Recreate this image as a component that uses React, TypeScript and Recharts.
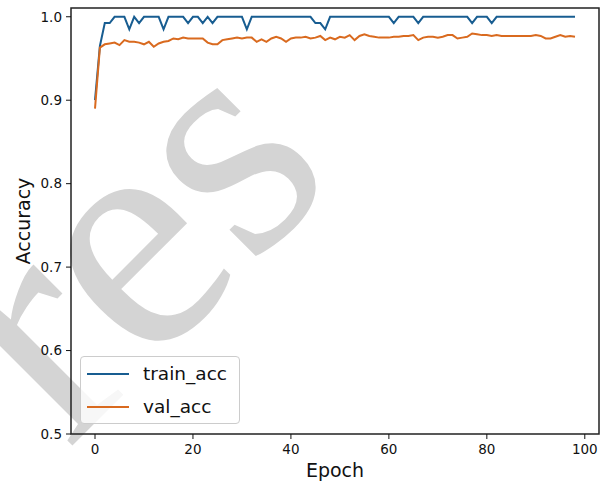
import React from 'react'
import { LineChart, Line, XAxis, YAxis, ReferenceArea } from 'recharts'

// accuracy per epoch (0..98)
const trainAcc = [
  0.9, 0.965, 0.9925, 0.9925, 1, 1, 1, 0.985, 1, 0.9925,
  1, 1, 1, 1, 0.985, 1, 1, 1, 1, 0.9925,
  1, 1, 0.9925, 1, 0.9925, 1, 1, 1, 1, 1,
  1, 0.985, 1, 1, 1, 1, 1, 1, 1, 1,
  1, 1, 1, 1, 1, 0.9925, 0.9925, 0.985, 1, 1,
  1, 1, 1, 1, 1, 1, 1, 1, 1, 1,
  1, 0.9925, 1, 1, 1, 1, 0.9925, 1, 1, 1,
  1, 1, 1, 1, 1, 1, 1, 0.9925, 1, 1,
  1, 0.9925, 1, 1, 1, 1, 1, 1, 1, 1,
  1, 1, 1, 1, 1, 1, 1, 1, 1,
]
const valAcc = [
  0.89, 0.963, 0.967, 0.968, 0.969, 0.966, 0.972, 0.97, 0.97, 0.969,
  0.967, 0.97, 0.964, 0.968, 0.97, 0.971, 0.974, 0.973, 0.975, 0.974,
  0.974, 0.974, 0.974, 0.969, 0.967, 0.967, 0.972, 0.973, 0.974, 0.975,
  0.974, 0.975, 0.975, 0.97, 0.973, 0.97, 0.974, 0.976, 0.974, 0.97,
  0.974, 0.975, 0.975, 0.976, 0.974, 0.975, 0.977, 0.972, 0.975, 0.973,
  0.976, 0.975, 0.978, 0.972, 0.977, 0.979, 0.977, 0.976, 0.975, 0.975,
  0.975, 0.976, 0.976, 0.977, 0.977, 0.978, 0.972, 0.975, 0.976, 0.976,
  0.975, 0.976, 0.978, 0.978, 0.974, 0.975, 0.976, 0.98, 0.979, 0.978,
  0.978, 0.977, 0.978, 0.977, 0.977, 0.977, 0.977, 0.977, 0.977, 0.977,
  0.978, 0.977, 0.974, 0.974, 0.976, 0.978, 0.976, 0.977, 0.976,
]
const xTicks = [0, 20, 40, 60, 80, 100]
const yTicks = [0.5, 0.6, 0.7, 0.8, 0.9, 1.0]
const xDomain: [number, number] = [-4.9, 102.9]
const yDomain: [number, number] = [0.5, 1.0105]

const series = [
  { key: 'train_acc', color: '#185d91' },
  { key: 'val_acc', color: '#d96a1f' },
]

const data = trainAcc.map((v, i) => ({ epoch: i, train_acc: v, val_acc: valAcc[i] }))

const font = '"DejaVu Sans", sans-serif'
const tickStyle = { fontSize: 13.5, fill: '#111', fontFamily: font }

function LegendBox() {
  return (
    <div
      style={{
        position: 'absolute',
        left: 80,
        top: 356,
        width: 158,
        height: 66,
        border: '1px solid #cccccc',
        borderRadius: 4,
        background: 'rgba(255,255,255,0.8)',
        fontFamily: font,
        fontSize: 18.5,
        color: '#111',
      }}
    >
      {series.map((s) => (
        <div key={s.key} style={{ display: 'flex', alignItems: 'center', height: 33 }}>
          <svg width={42} height={4} style={{ marginLeft: 6 }}>
            <line x1={0} x2={42} y1={2} y2={2} stroke={s.color} strokeWidth={2} />
          </svg>
          <span style={{ marginLeft: 14, lineHeight: '33px' }}>{s.key}</span>
        </div>
      ))}
    </div>
  )
}

export default function App() {
  return (
    <div style={{ position: 'absolute', left: 0, top: 0, width: 602, height: 484, background: '#fff', overflow: 'hidden' }}>
      <svg width={602} height={484} style={{ position: 'absolute', left: 0, top: 0 }}>
        <text
          x={-62}
          y={580}
          transform="rotate(-45, -62, 580)"
          fontFamily='"Liberation Serif", serif'
          fontSize={330}
          fill="#d4d4d4"
        >
          Pres
        </text>
      </svg>
      <div style={{ position: 'absolute', left: 0, top: 0 }}>
        <LineChart width={602} height={484} data={data} margin={{ top: 8, right: 3, bottom: 0, left: 0 }}>
          <XAxis
            dataKey="epoch"
            type="number"
            domain={xDomain}
            ticks={xTicks}
            allowDataOverflow
            height={50}
            axisLine={false}
            tickLine={{ stroke: '#111' }}
            tickSize={5}
            tickMargin={5}
            tick={tickStyle}
            label={{ value: 'Epoch', position: 'insideBottom', offset: 7, style: { fontSize: 19, fill: '#111', fontFamily: font } }}
          />
          <YAxis
            type="number"
            domain={yDomain}
            ticks={yTicks}
            allowDataOverflow
            width={71}
            axisLine={false}
            tickLine={{ stroke: '#111' }}
            tickSize={5}
            tickMargin={4}
            tick={tickStyle}
            tickFormatter={(v: number) => v.toFixed(1)}
            label={{ value: 'Accuracy', angle: -90, position: 'insideLeft', offset: 23, style: { textAnchor: 'middle', fontSize: 19, fill: '#111', fontFamily: font } }}
          />
          <ReferenceArea
            x1={xDomain[0]}
            x2={xDomain[1]}
            y1={yDomain[0]}
            y2={yDomain[1]}
            fill="none"
            stroke="#222"
            strokeWidth={1.5}
            ifOverflow="visible"
          />
          {series.map((s) => (
            <Line
              key={s.key}
              type="linear"
              dataKey={s.key}
              stroke={s.color}
              strokeWidth={2}
              dot={false}
              isAnimationActive={false}
            />
          ))}
        </LineChart>
      </div>
      <LegendBox />
    </div>
  )
}
